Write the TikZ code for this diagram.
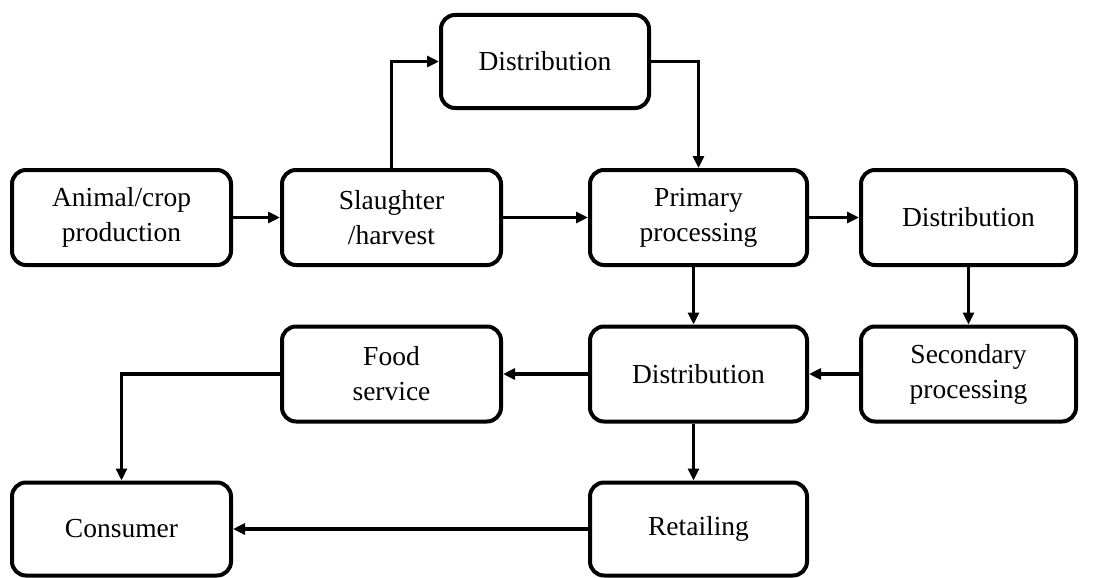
\documentclass[tikz,border=0pt]{standalone}
\usepackage{fontspec}
\setmainfont{Liberation Serif}
\usetikzlibrary{arrows.meta}
\begin{document}
\begin{tikzpicture}[x=1pt,y=-1pt,
  box/.style={draw, line width=4pt, rounded corners=14pt, minimum width=#1,
    minimum height=95pt, inner sep=0pt, align=center,
    font=\fontsize{27.5}{35}\selectfont},
  arr/.style={line width=3.2pt, -{Triangle[length=12pt,width=11pt]}}]
\useasboundingbox (0,0) rectangle (1116,578);
\node[box=219pt] (anim) at (121.5,217.5) {Animal/crop\\production};
\node[box=219pt] (slau) at (391.5,217.5) {Slaughter\\/harvest};
\node[box=208pt, minimum height=93pt] (dtop) at (545,61.5) {Distribution};
\node[box=217pt] (prim) at (698.5,217.5) {Primary\\processing};
\node[box=215pt] (dright) at (968.5,217.5) {Distribution};
\node[box=219pt] (food) at (391.5,374) {Food\\service};
\node[box=217pt] (dmid) at (698.5,374) {Distribution};
\node[box=215pt] (sec) at (968.5,374) {Secondary\\processing};
\node[box=219pt, minimum height=93pt] (cons) at (121.5,529) {Consumer};
\node[box=217pt, minimum height=93pt] (retail) at (698.5,529) {Retailing};
\draw[arr] (anim) -- (slau);
\draw[arr] (slau.north) |- (dtop.west);
\draw[arr] (dtop.east) -| (prim.north);
\draw[arr] (slau) -- (prim);
\draw[arr] (prim) -- (dright);
\draw[arr] ([xshift=-5pt]prim.south) -- ([xshift=-5pt]dmid.north);
\draw[arr] (dright) -- (sec);
\draw[arr] (sec) -- (dmid);
\draw[arr] (dmid) -- (food);
\draw[arr] (food.west) -| (cons.north);
\draw[arr] ([xshift=-5pt]dmid.south) -- ([xshift=-5pt]retail.north);
\draw[arr] (retail) -- (cons);
\end{tikzpicture}
\end{document}
